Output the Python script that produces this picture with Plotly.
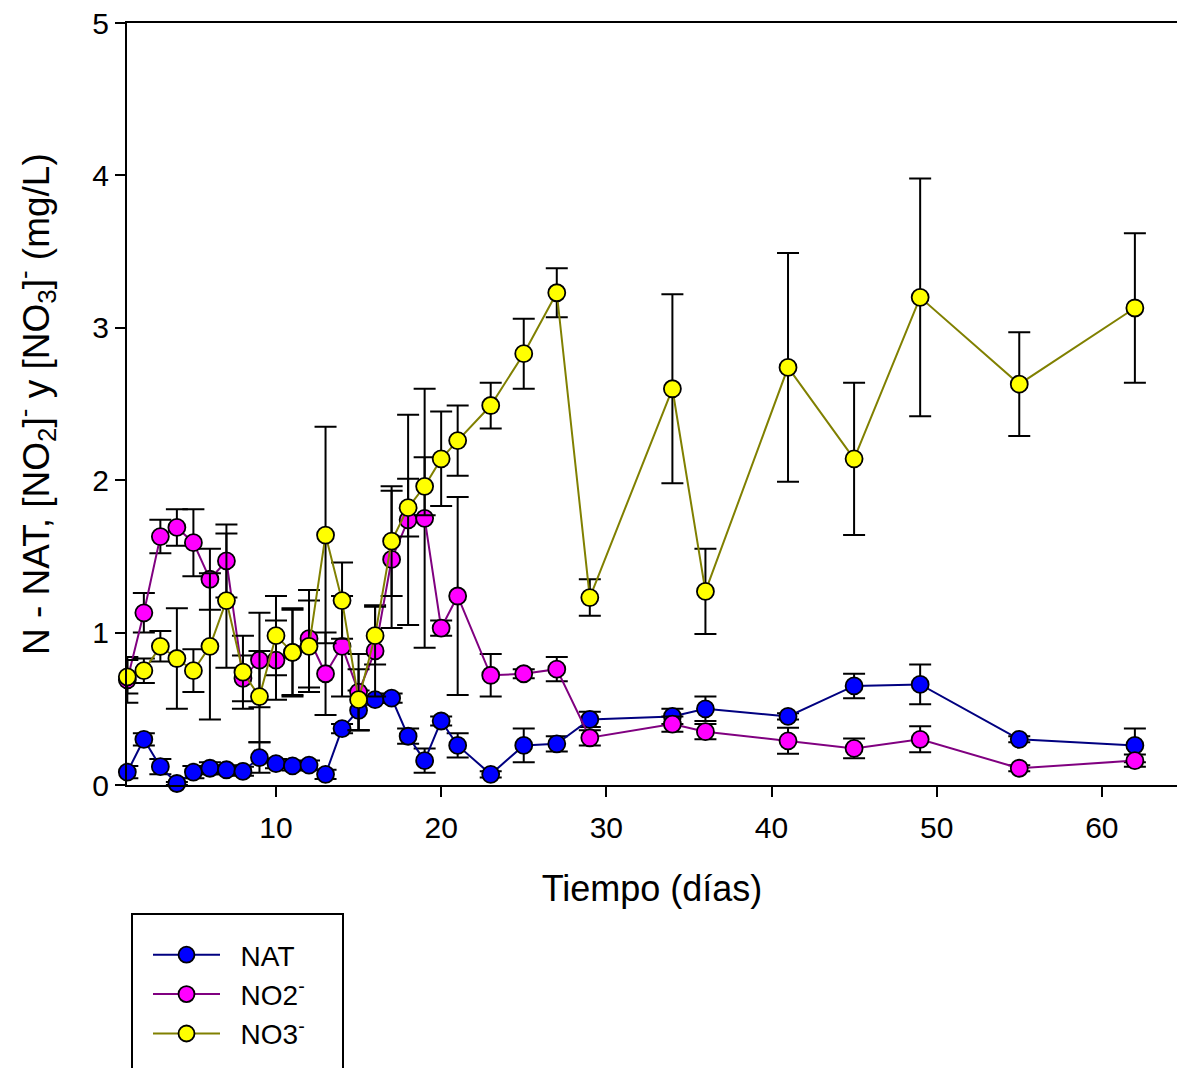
import plotly.graph_objects as go

days = [1, 2, 3, 4, 5, 6, 7, 8, 9, 10, 11, 12, 13, 14, 15, 16, 17, 18, 19, 20, 21,
        23, 25, 27, 29, 34, 36, 41, 45, 49, 55, 62]

nat = [0.085, 0.30, 0.12, 0.01, 0.085, 0.11, 0.10, 0.09, 0.18, 0.14, 0.125, 0.13, 0.07, 0.37, 0.49, 0.56, 0.57,
       0.32, 0.16, 0.42, 0.26, 0.07, 0.26, 0.27, 0.43, 0.45, 0.50, 0.45, 0.65, 0.66, 0.30, 0.26]
nat_err = [0.04, 0.04, 0.05, 0.01, 0.04, 0.04, 0.03, 0.03, 0.10, 0.03, 0.03, 0.03, 0.03, 0.03, 0.13, 0.02, 0.03,
           0.05, 0.08, 0.03, 0.08, 0.02, 0.11, 0.05, 0.05, 0.05, 0.08, 0.02, 0.08, 0.13, 0.02, 0.11]

no2 = [0.69, 1.13, 1.63, 1.69, 1.59, 1.35, 1.47, 0.70, 0.82, 0.82, 0.87, 0.96, 0.73, 0.91, 0.61, 0.88, 1.48,
       1.74, 1.75, 1.03, 1.24, 0.72, 0.73, 0.76, 0.31, 0.40, 0.35, 0.29, 0.24, 0.30, 0.11, 0.16]
no2_err = [0.15, 0.13, 0.11, 0.12, 0.22, 0.20, 0.24, 0.15, 0.31, 0.26, 0.28, 0.32, 0.27, 0.33, 0.25, 0.30, 0.45,
           0.69, 0.85, 0.05, 0.65, 0.14, 0.03, 0.08, 0.05, 0.05, 0.05, 0.085, 0.065, 0.085, 0.02, 0.04]

no3 = [0.71, 0.75, 0.91, 0.83, 0.75, 0.91, 1.21, 0.74, 0.58, 0.98, 0.87, 0.91, 1.64, 1.21, 0.56, 0.98, 1.60,
       1.82, 1.96, 2.14, 2.26, 2.49, 2.83, 3.23, 1.23, 2.60, 1.27, 2.74, 2.14, 3.20, 2.63, 3.13]
no3_err = [0.11, 0.08, 0.10, 0.33, 0.14, 0.48, 0.44, 0.24, 0.30, 0.26, 0.29, 0.30, 0.71, 0.25, 0.20, 0.19, 0.36,
           0.19, 0.19, 0.31, 0.23, 0.15, 0.23, 0.16, 0.12, 0.62, 0.28, 0.75, 0.50, 0.78, 0.34, 0.49]

NB = "\u00a0\u00a0"
series = [
    (NB + "NAT", nat, nat_err, "#000080", "#0000FF"),
    (NB + "NO2<sup>-</sup>", no2, no2_err, "#800080", "#FF00FF"),
    (NB + "NO3<sup>-</sup>", no3, no3_err, "#808000", "#FFFF00"),
]

FONT = "Liberation Sans, Arial, sans-serif"

fig = go.Figure()
for name, vals, errs, lc, fc in series:
    fig.add_trace(go.Scatter(
        x=days, y=vals, name=name, mode="lines+markers",
        line=dict(color=lc, width=2),
        marker=dict(symbol="circle", size=17, color=fc, line=dict(color="black", width=1.8)),
        error_y=dict(type="data", array=errs, visible=True, color="black", thickness=2, width=11),
        cliponaxis=False,
    ))

W, H = 1177, 1068
L, R, T, B = 127, 0, 23, 283
pw, ph = W - L - R, H - T - B

def px_x(p):
    return (p - L) / pw

def px_y(p):
    return (H - B - p) / ph

fig.update_layout(
    width=W, height=H,
    margin=dict(l=L, r=R, t=T, b=B),
    plot_bgcolor="white", paper_bgcolor="white",
    font=dict(family=FONT, color="black", size=30),
    showlegend=True,
    legend=dict(
        x=px_x(148), y=px_y(930), xanchor="left", yanchor="top",
        bgcolor="rgba(0,0,0,0)", borderwidth=0,
        font=dict(family=FONT, size=28, color="black"),
        itemwidth=67, tracegroupgap=0,
    ),
    xaxis=dict(
        range=[0.98, 64.55], tickvals=[10, 20, 30, 40, 50, 60],
        showline=True, linecolor="black", linewidth=2, mirror=True,
        ticks="outside", ticklen=10, tickwidth=2, tickcolor="black",
        showgrid=False, zeroline=False, ticklabelstandoff=5,
        tickfont=dict(family=FONT, size=30, color="black"),
        title=dict(text="Tiempo (días)", font=dict(family=FONT, size=36, color="black"), standoff=33),
    ),
    yaxis=dict(
        range=[0, 5], tickvals=[0, 1, 2, 3, 4, 5],
        showline=True, linecolor="black", linewidth=2, mirror=False,
        ticks="outside", ticklen=10, tickwidth=2, tickcolor="black",
        showgrid=False, zeroline=False,
        tickfont=dict(family=FONT, size=30, color="black"),
    ),
    annotations=[dict(
        text="N - NAT, [NO<sub>2</sub>]<sup>-</sup> y [NO<sub>3</sub>]<sup>-</sup> (mg/L)",
        xref="paper", yref="paper", x=px_x(35), y=px_y(404),
        xanchor="center", yanchor="middle", textangle=-90, showarrow=False,
        font=dict(family=FONT, size=37, color="black"),
    )],
    shapes=[dict(type="rect", xref="paper", yref="paper",
                 x0=px_x(132), x1=px_x(343), y0=px_y(914), y1=px_y(1090),
                 line=dict(color="black", width=2), fillcolor="rgba(0,0,0,0)")],
)

fig.write_html("out.html")
